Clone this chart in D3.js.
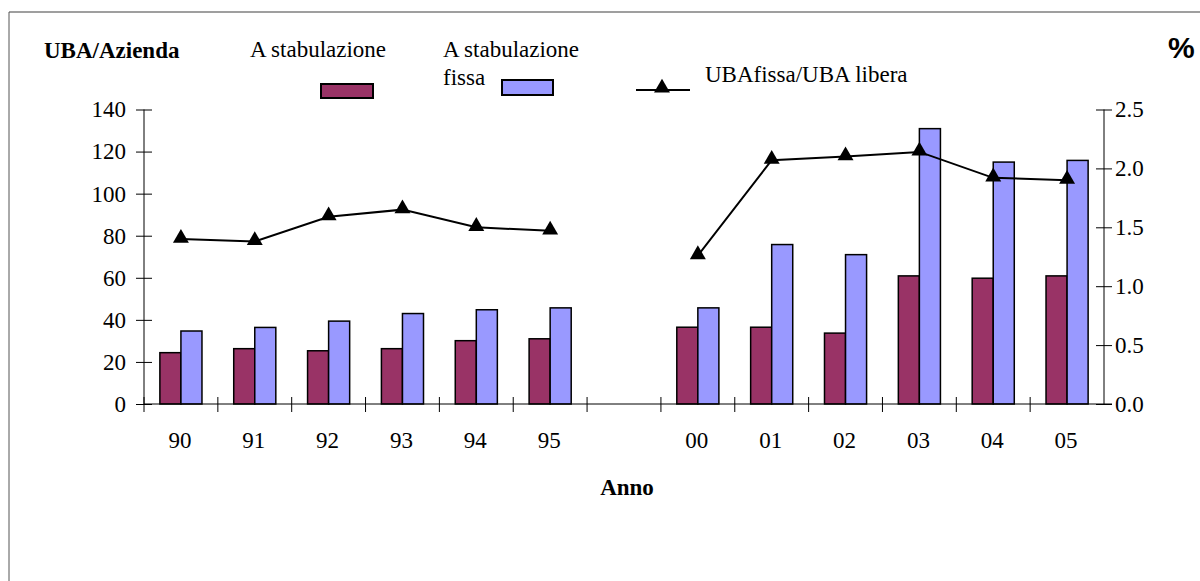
<!DOCTYPE html>
<html>
<head>
<meta charset="utf-8">
<script src="https://cdn.jsdelivr.net/npm/d3@7"></script>
<style>
  html, body { margin: 0; padding: 0; background: #fff; }
  svg { display: block; }
  text { font-family: "Liberation Serif", "Times New Roman", serif; fill: #000; }
</style>
</head>
<body>
<svg id="chart" width="1200" height="581"></svg>
<script>
// Years (two-digit); the empty slot separates the two decades
const years = ["90", "91", "92", "93", "94", "95", "", "00", "01", "02", "03", "04", "05"];
// UBA per farm, loose housing ("A stabulazione")
const ubaLibera = [24.4, 26.3, 25.3, 26.3, 30.1, 31.0, null, 36.5, 36.5, 33.7, 60.9, 59.8, 60.9];
// UBA per farm, tie-stall housing ("A stabulazione fissa")
const ubaFissa = [34.7, 36.4, 39.4, 43.0, 44.8, 45.7, null, 45.7, 75.8, 71.0, 130.9, 115.0, 115.8];
// Ratio UBA fissa / UBA libera (right axis, %)
const ratio = [1.40, 1.38, 1.59, 1.65, 1.50, 1.47, null, 1.26, 2.07, 2.10, 2.14, 1.92, 1.90];
const leftTicks = [0, 20, 40, 60, 80, 100, 120, 140];
const rightTicks = [0, 0.5, 1.0, 1.5, 2.0, 2.5];

const colLibera = "#993366";
const colFissa = "#9999ff";

const svg = d3.select("#chart");

// outer frame (top and left edges)
svg.append("line").attr("x1", 9).attr("y1", 12).attr("x2", 1200).attr("y2", 12)
  .attr("stroke", "#7f7f7f").attr("stroke-width", 1.5);
svg.append("line").attr("x1", 9).attr("y1", 12).attr("x2", 9).attr("y2", 581)
  .attr("stroke", "#555").attr("stroke-width", 1);

const plot = { left: 144, right: 1104, top: 109.5, bottom: 404 };

const x = d3.scaleBand().domain(d3.range(years.length))
  .range([plot.left, plot.right]).paddingInner(0).paddingOuter(0);
const yL = d3.scaleLinear().domain([0, 140]).range([plot.bottom, plot.top]);
const yR = d3.scaleLinear().domain([0, 2.5]).range([plot.bottom, plot.top]);

const groupW = x.bandwidth() * 0.57;
const barW = groupW / 2;

// bars
const idx = d3.range(years.length).filter(i => ubaLibera[i] != null);
const g = svg.append("g");
g.selectAll("rect.lib").data(idx).join("rect")
  .attr("x", i => x(i) + (x.bandwidth() - groupW) / 2)
  .attr("y", i => yL(ubaLibera[i]))
  .attr("width", barW)
  .attr("height", i => yL(0) - yL(ubaLibera[i]))
  .attr("fill", colLibera).attr("stroke", "#000").attr("stroke-width", 1.5);
g.selectAll("rect.fis").data(idx).join("rect")
  .attr("x", i => x(i) + (x.bandwidth() - groupW) / 2 + barW)
  .attr("y", i => yL(ubaFissa[i]))
  .attr("width", barW)
  .attr("height", i => yL(0) - yL(ubaFissa[i]))
  .attr("fill", colFissa).attr("stroke", "#000").attr("stroke-width", 1.5);

// left axis
const axL = svg.append("g").attr("transform", `translate(${plot.left},0)`)
  .call(d3.axisLeft(yL).tickValues(leftTicks).tickSize(8).tickPadding(10).tickFormat(d3.format("d")));
axL.selectAll(".tick line").attr("x2", -8).attr("x1", 8);
// right axis
const axR = svg.append("g").attr("transform", `translate(${plot.right},0)`)
  .call(d3.axisRight(yR).tickValues(rightTicks).tickSize(8).tickPadding(3).tickFormat(d3.format(".1f")));
axR.selectAll(".tick line").attr("x1", -8).attr("x2", 8);

// bottom axis: ticks at category boundaries, labels at centers
const axB = svg.append("g").attr("transform", `translate(0,${plot.bottom})`);
axB.append("line").attr("x1", plot.left).attr("x2", plot.right + 8)
  .attr("stroke", "#000").attr("stroke-width", 1);
axB.selectAll("line.tk").data(d3.range(years.length)).join("line")
  .attr("x1", i => x(i)).attr("x2", i => x(i))
  .attr("y1", -7).attr("y2", 8)
  .attr("stroke", "#000").attr("stroke-width", 1);
axB.selectAll("text.lab").data(d3.range(years.length)).join("text")
  .attr("x", i => x(i) + x.bandwidth() / 2 - 1)
  .attr("y", 44)
  .attr("text-anchor", "middle")
  .style("font-size", "23px")
  .text(i => years[i]);

[axL, axR].forEach(a => {
  a.select(".domain").attr("stroke", "#000").attr("stroke-width", 1);
  a.selectAll(".tick line").attr("stroke", "#000");
  a.selectAll("text").style("font-family", "Liberation Serif, serif").style("font-size", "23px").attr("fill", "#000");
});
axL.select(".domain").attr("d", `M0,${plot.top}V${plot.bottom}`);
axR.select(".domain").attr("d", `M0,${plot.top}V${plot.bottom}`);

// ratio line, split at the gap
const lineGen = d3.line()
  .defined(i => ratio[i] != null)
  .x(i => x(i) + x.bandwidth() / 2)
  .y(i => yR(ratio[i]));
svg.append("path").datum(d3.range(years.length))
  .attr("d", lineGen).attr("fill", "none").attr("stroke", "#000").attr("stroke-width", 2);
const tri = d3.symbol().type(d3.symbolTriangle).size(110);
svg.selectAll("path.mk").data(idx).join("path")
  .attr("transform", i => `translate(${x(i) + x.bandwidth() / 2},${yR(ratio[i]) - 1})`)
  .attr("d", tri).attr("fill", "#000");

// titles
svg.append("text").attr("x", 44).attr("y", 58).style("font-size", "23px").style("font-weight", "bold")
  .text("UBA/Azienda");
svg.append("text").attr("x", 1168).attr("y", 58)
  .style("font-family", "Liberation Sans, Arial, sans-serif").style("font-size", "30px").style("font-weight", "bold")
  .text("%");
svg.append("text").attr("x", 627).attr("y", 495).attr("text-anchor", "middle")
  .style("font-size", "23px").style("font-weight", "bold").text("Anno");

// legend
svg.append("text").attr("x", 250).attr("y", 57).style("font-size", "23px").text("A stabulazione");
svg.append("rect").attr("x", 321).attr("y", 84).attr("width", 52).attr("height", 14)
  .attr("fill", colLibera).attr("stroke", "#000").attr("stroke-width", 2);
svg.append("text").attr("x", 443).attr("y", 57).style("font-size", "23px").text("A stabulazione");
svg.append("text").attr("x", 443).attr("y", 85).style("font-size", "23px").text("fissa");
svg.append("rect").attr("x", 502).attr("y", 80).attr("width", 51).attr("height", 15)
  .attr("fill", colFissa).attr("stroke", "#000").attr("stroke-width", 2);
svg.append("line").attr("x1", 636).attr("x2", 690).attr("y1", 90).attr("y2", 90)
  .attr("stroke", "#000").attr("stroke-width", 2);
svg.append("path").attr("transform", "translate(662,88)").attr("d", tri).attr("fill", "#000");
svg.append("text").attr("x", 705).attr("y", 82).style("font-size", "23px").text("UBAfissa/UBA libera");
</script>
</body>
</html>
